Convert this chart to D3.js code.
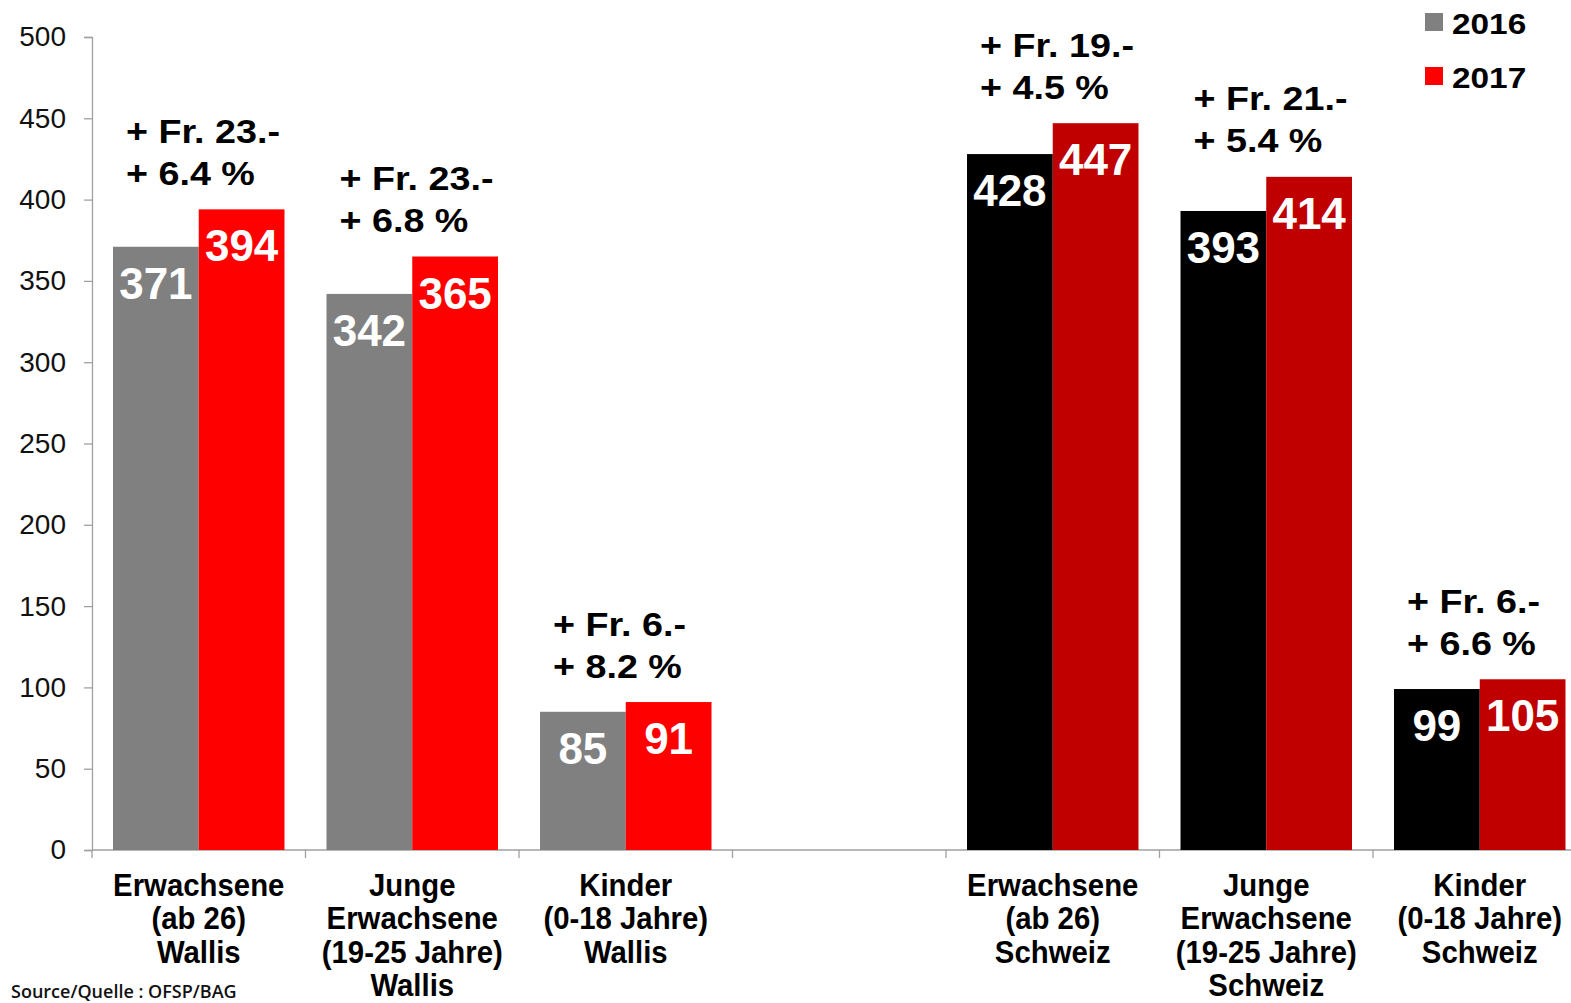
<!DOCTYPE html>
<html>
<head>
<meta charset="utf-8">
<script src="https://cdn.jsdelivr.net/npm/d3@7"></script>
<style>
  html, body { margin: 0; padding: 0; background: #fff; }
  svg { display: block; }
  text { font-family: "Liberation Sans", Arial, sans-serif; }
</style>
</head>
<body>
<svg id="chart" width="1571" height="1003"></svg>
<script>
// ---------- data ----------
const categoryKeys = ["w1", "w2", "w3", "gap", "s1", "s2", "s3"];
const categoryLines = [
  ["Erwachsene", "(ab 26)", "Wallis"],
  ["Junge", "Erwachsene", "(19-25 Jahre)", "Wallis"],
  ["Kinder", "(0-18 Jahre)", "Wallis"],
  [],
  ["Erwachsene", "(ab 26)", "Schweiz"],
  ["Junge", "Erwachsene", "(19-25 Jahre)", "Schweiz"],
  ["Kinder", "(0-18 Jahre)", "Schweiz"]
];
const region = ["Wallis", "Wallis", "Wallis", null, "Schweiz", "Schweiz", "Schweiz"];
const series = ["2016", "2017"];
const values2016 = [371, 342, 85, null, 428, 393, 99];
const values2017 = [394, 365, 91, null, 447, 414, 105];
const annotFr  = ["+ Fr. 23.-", "+ Fr. 23.-", "+ Fr. 6.-", null, "+ Fr. 19.-", "+ Fr. 21.-", "+ Fr. 6.-"];
const annotPct = ["+ 6.4 %", "+ 6.8 %", "+ 8.2 %", null, "+ 4.5 %", "+ 5.4 %", "+ 6.6 %"];
const yTicks = [0, 50, 100, 150, 200, 250, 300, 350, 400, 450, 500];
const sourceText = "Source/Quelle : OFSP/BAG";

const colors = {
  Wallis:  { "2016": "#808080", "2017": "#ff0000" },
  Schweiz: { "2016": "#000000", "2017": "#c00000" }
};

(function () {
// ---------- layout ----------
const svg = d3.select("#chart");
const plotLeft = 92, plotTop = 37, plotBottom = 850;
const slot = 213.5;
const plotRight = plotLeft + slot * categoryKeys.length;

const x = d3.scaleBand().domain(categoryKeys).range([plotLeft, plotRight]).paddingInner(0).paddingOuter(0);
const xSub = d3.scaleBand().domain(series).range([0, x.bandwidth()]).paddingInner(0).paddingOuter(0.245);
const y = d3.scaleLinear().domain([0, 500]).range([plotBottom, plotTop]);

const axisColor = "#a0a0a0";

// y axis
const yAxis = svg.append("g")
  .attr("transform", `translate(${plotLeft},0)`)
  .call(d3.axisLeft(y).tickValues(yTicks).tickSize(8).tickPadding(18).tickFormat(d3.format("d")));
yAxis.select(".domain").attr("stroke", axisColor).attr("stroke-width", 1.3);
yAxis.selectAll(".tick line").attr("stroke", axisColor).attr("stroke-width", 1.3);
yAxis.selectAll(".tick text")
  .attr("fill", "#111")
  .style("font-size", "28px")
  .style("font-family", "'Liberation Sans', Arial, sans-serif");

// x axis baseline & ticks at slot boundaries
const xAxisG = svg.append("g");
xAxisG.append("line")
  .attr("x1", plotLeft).attr("x2", 1571).attr("y1", y(0)).attr("y2", y(0))
  .attr("stroke", axisColor).attr("stroke-width", 1.3);
xAxisG.selectAll("line.tk")
  .data(categoryKeys)
  .join("line")
  .attr("class", "tk")
  .attr("x1", d => x(d)).attr("x2", d => x(d))
  .attr("y1", y(0)).attr("y2", y(0) + 8)
  .attr("stroke", axisColor).attr("stroke-width", 1.3);

// bars
const rows = categoryKeys.map((k, i) => ({
  key: k, i, region: region[i],
  vals: [ { s: "2016", v: values2016[i] }, { s: "2017", v: values2017[i] } ]
})).filter(r => r.region);

const groups = svg.append("g").selectAll("g.grp")
  .data(rows).join("g")
  .attr("class", "grp")
  .attr("transform", d => `translate(${x(d.key)},0)`);

groups.selectAll("rect")
  .data(d => d.vals.map(v => ({ ...v, region: d.region })))
  .join("rect")
  .attr("x", d => xSub(d.s))
  .attr("width", xSub.bandwidth())
  .attr("y", d => y(d.v))
  .attr("height", d => y(0) - y(d.v))
  .attr("fill", d => colors[d.region][d.s]);

// value labels (white, inside top)
groups.selectAll("text.val")
  .data(d => d.vals)
  .join("text")
  .attr("class", "val")
  .attr("x", d => xSub(d.s) + xSub.bandwidth() / 2)
  .attr("y", d => y(d.v) + 52)
  .attr("text-anchor", "middle")
  .attr("fill", "#fff")
  .style("font-size", "44px")
  .style("font-weight", "bold")
  .text(d => d.v);

// annotations above bars
const ann = groups.append("g")
  .attr("transform", d => `translate(${xSub("2016") + 13},${y(d.vals[1].v) - 24.5}) scale(1.16,1)`);
ann.append("text")
  .attr("x", 0).attr("y", -42)
  .style("font-size", "32.5px").style("font-weight", "bold").attr("fill", "#000")
  .text(d => annotFr[d.i]);
ann.append("text")
  .attr("x", 0).attr("y", 0)
  .style("font-size", "32.5px").style("font-weight", "bold").attr("fill", "#000")
  .text(d => annotPct[d.i]);

// category labels
const catG = svg.append("g").selectAll("g.cat")
  .data(rows).join("g")
  .attr("class", "cat")
  .attr("transform", d => `translate(${x(d.key) + x.bandwidth() / 2},896) scale(1.03,1.08)`);
catG.selectAll("text")
  .data(d => categoryLines[d.i])
  .join("text")
  .attr("x", 0)
  .attr("y", (d, j) => j * 30.9)
  .attr("text-anchor", "middle")
  .attr("fill", "#000")
  .style("font-size", "28.5px")
  .style("font-weight", "bold")
  .text(d => d);

// legend
const legend = svg.append("g").selectAll("g.leg")
  .data(series).join("g")
  .attr("class", "leg")
  .attr("transform", (d, i) => `translate(1425,${13 + i * 54})`);
legend.append("rect")
  .attr("width", 18).attr("height", 18)
  .attr("fill", d => colors.Wallis[d]);
legend.append("g")
  .attr("transform", "translate(27,21) scale(1.15,1)")
  .append("text")
  .style("font-size", "29px").style("font-weight", "bold").attr("fill", "#000")
  .text(d => d);

// source
svg.append("text")
  .attr("x", 11).attr("y", 998)
  .attr("fill", "#111")
  .style("font-family", "'Open Sans', sans-serif")
  .style("font-size", "18px")
  .style("font-weight", "600")
  .text(sourceText);
})();
</script>
</body>
</html>
